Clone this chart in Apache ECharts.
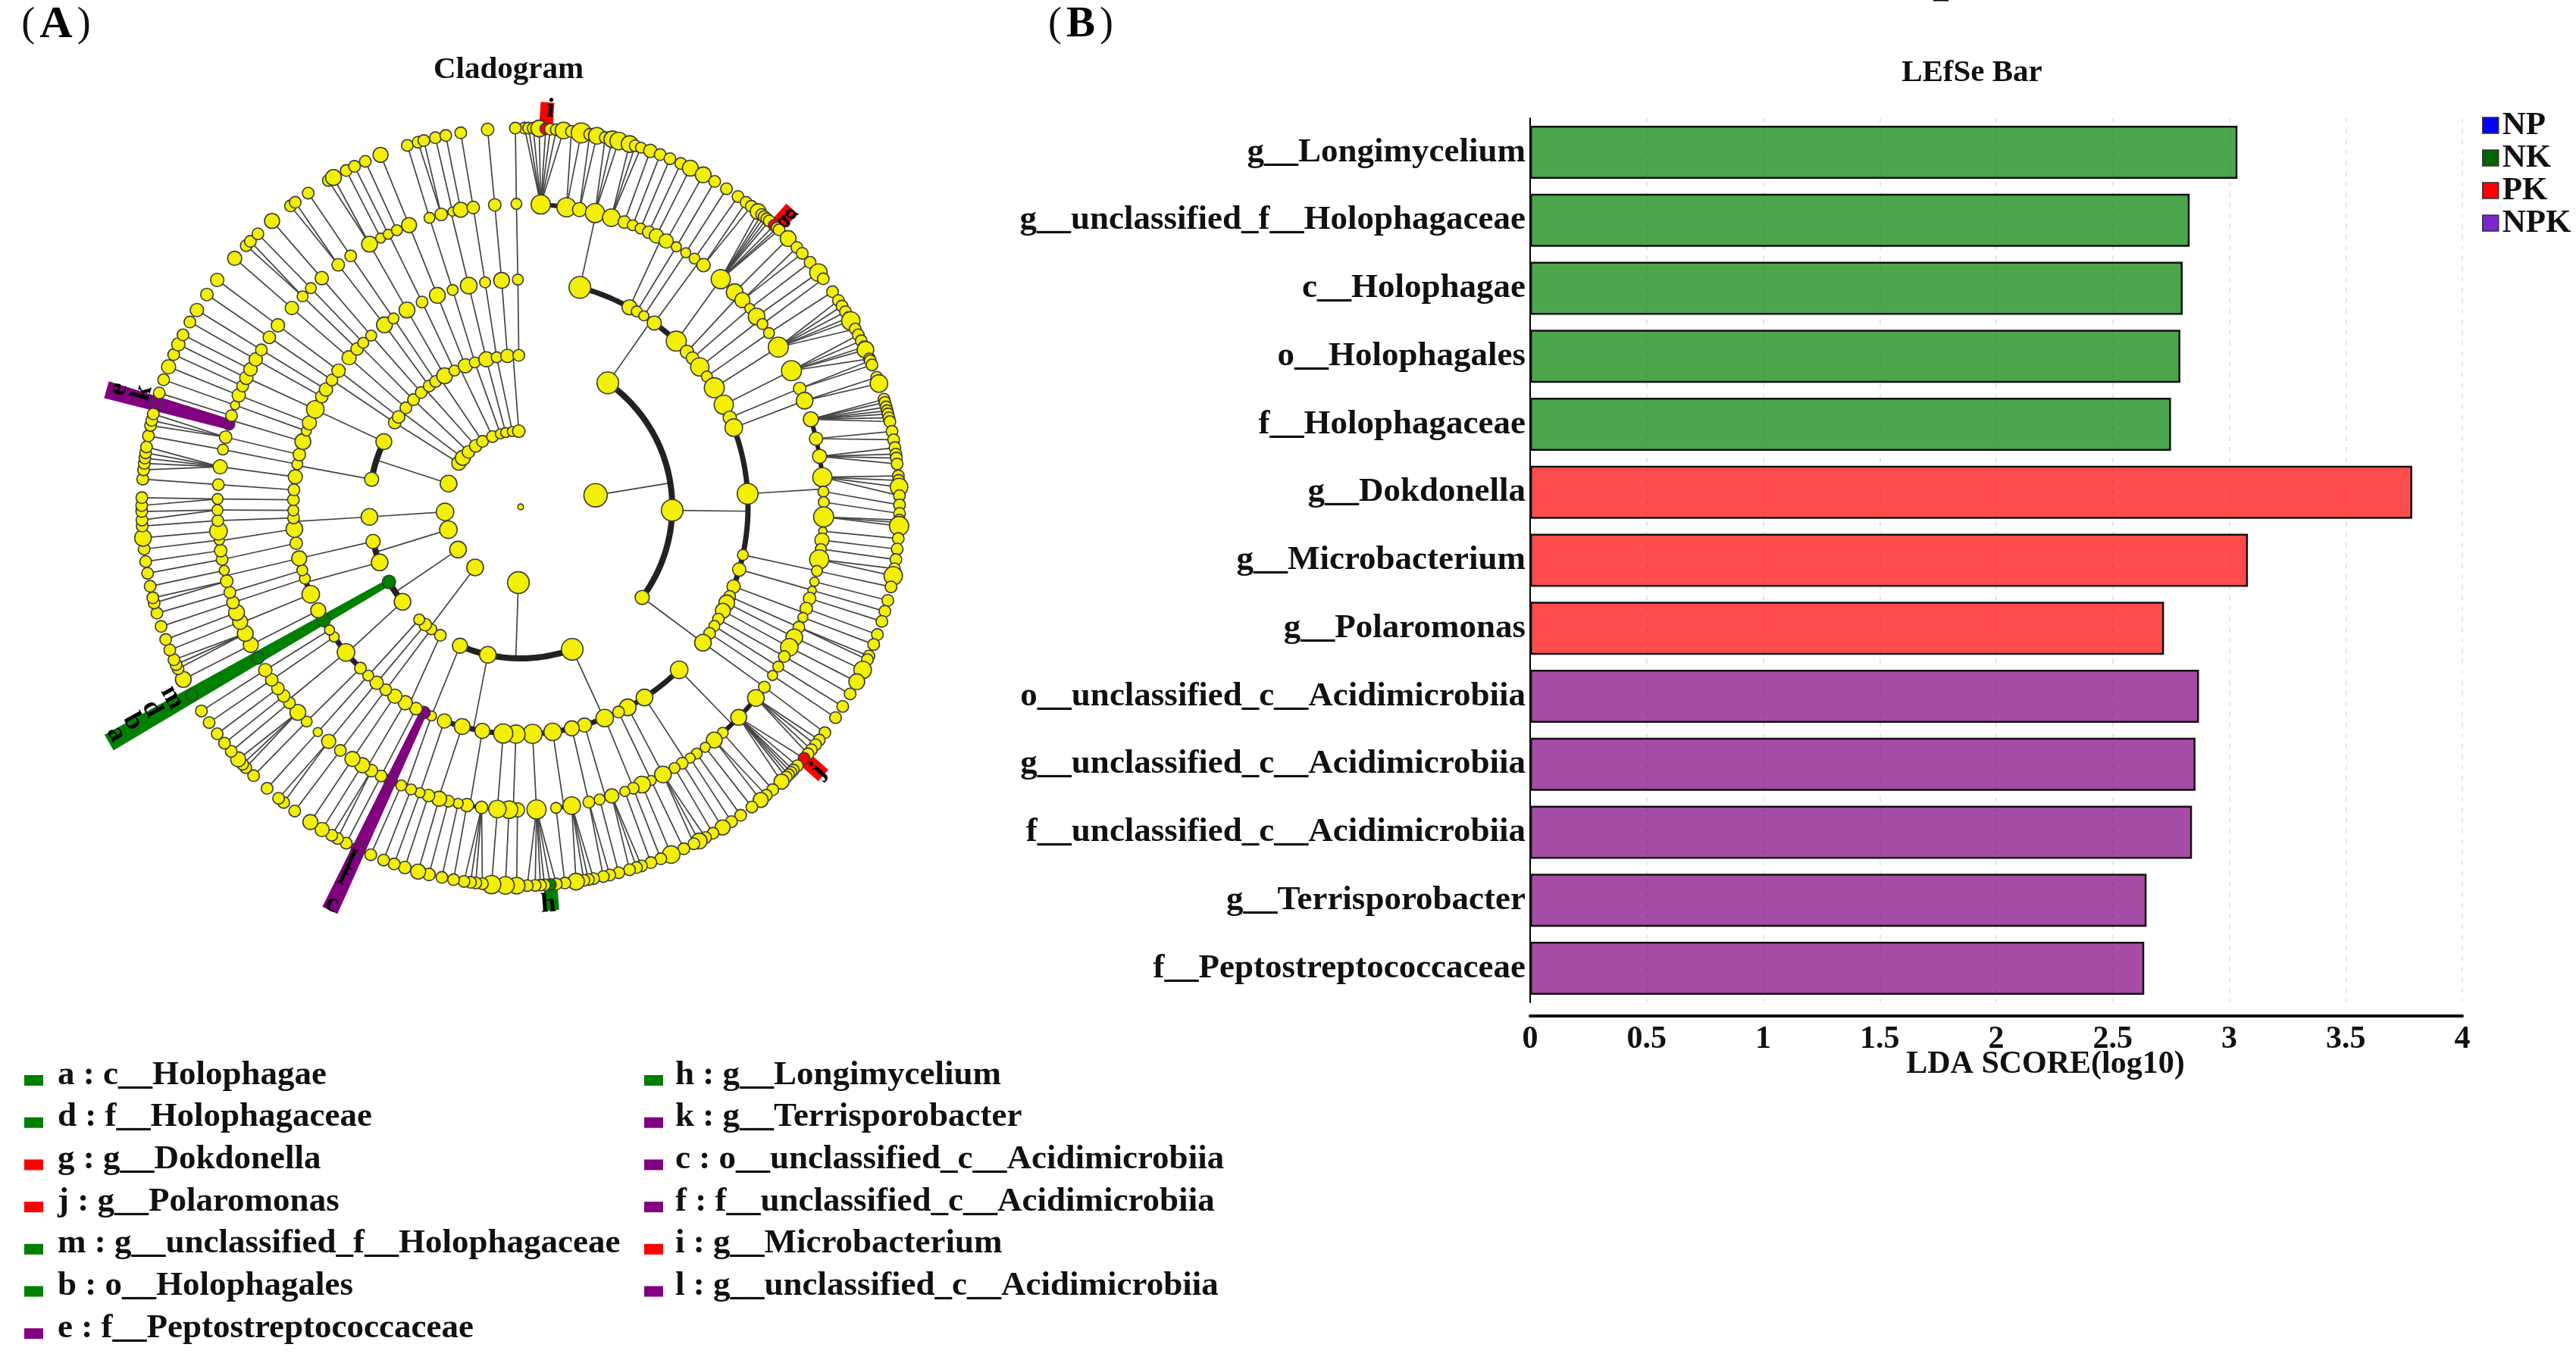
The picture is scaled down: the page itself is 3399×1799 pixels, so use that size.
<!DOCTYPE html>
<html><head><meta charset="utf-8"><style>html,body{margin:0;padding:0;background:#fff}#c{width:3399px;height:1799px}</style>
<script src="https://cdn.jsdelivr.net/npm/echarts@6/dist/echarts.min.js"></script></head>
<body><div id="c"></div>
<script>
// ---------- Bar panel data ----------
const taxa = ['g__Longimycelium','g__unclassified_f__Holophagaceae','c__Holophagae','o__Holophagales','f__Holophagaceae','g__Dokdonella','g__Microbacterium','g__Polaromonas','o__unclassified_c__Acidimicrobiia','g__unclassified_c__Acidimicrobiia','f__unclassified_c__Acidimicrobiia','g__Terrisporobacter','f__Peptostreptococcaceae'];
const ldaNP  = [null,null,null,null,null,null,null,null,null,null,null,null,null];
const ldaNK  = [3.035,2.83,2.80,2.79,2.75,null,null,null,null,null,null,null,null];
const ldaPK  = [null,null,null,null,null,3.785,3.08,2.72,null,null,null,null,null];
const ldaNPK = [null,null,null,null,null,null,null,null,2.87,2.855,2.84,2.645,2.635];
const xTicks = [0,0.5,1,1.5,2,2.5,3,3.5,4];

// ---------- Cladogram key ----------
const keyCol1 = [['a : c__Holophagae','NK'],['d : f__Holophagaceae','NK'],['g : g__Dokdonella','PK'],['j : g__Polaromonas','PK'],['m : g__unclassified_f__Holophagaceae','NK'],['b : o__Holophagales','NK'],['e : f__Peptostreptococcaceae','NPK']];
const keyCol2 = [['h : g__Longimycelium','NK'],['k : g__Terrisporobacter','NPK'],['c : o__unclassified_c__Acidimicrobiia','NPK'],['f : f__unclassified_c__Acidimicrobiia','NPK'],['i : g__Microbacterium','PK'],['l : g__unclassified_c__Acidimicrobiia','NPK']];

// ---------- Cladogram tree: [angle in degrees, abundance, [angles of children]] ----------
const phyla = [[81.2,28,[35.1,91.3,126.7]],[181.7,26,[160.1,192.5,203.6]],[216.9,20,[212,216.1,219,222]],[235.7,20,[231.2,240.3]],[252.5,21,[248.5,256.8]],[266.2,21,[266.2]],[287.9,20,[280.5,295.5]],[305.3,17,[303.8]],[310.3,18,[306.4,310.8]],[316.5,15,[315]],[323.6,15,[319,322.9]],[329.8,14,[325.9,329.9]],[338.2,14,[334.1,338.6]],[344.5,12,[342.4]],[348.6,12,[346.9]],[353.7,12,[350.9]],[358.6,15,[355,359.3]]];
const classes = [[35.1,26,[15.1,28.6,30.7,32.8,36,43.2,47,49.1,52,55]],[91.3,26,[58.4,63.3,66.9,69.6,86.7,102.2,106,110.5,113.2,115,117.2,119.6,121.6,123.8]],[126.7,17,[126.7]],[160.1,26,[135.8,147,151.9,154.5,158.3,163.7,167,171.9,177,181.2]],[192.5,20,[184.4,189.7,194.9,199.6]],[203.6,18,[203.1]],[212,14,[205.2,207.4,210.5,213.6]],[216.1,13,[216.4]],[219,15,[219.3]],[222,13,[222.1]],[231.2,20,[224.8,230.2,235.1]],[240.3,16,[237.2,240.1,242.9]],[248.5,20,[247.4,251.6,253.8]],[256.8,17,[256.9]],[266.2,20,[260.8,264.4,267.2,269.1,271.8]],[280.5,17,[274.3,277.6,280.8,283.3,286.7]],[295.5,19,[289.5,291.7,295.4,299,301.1]],[303.8,15,[303.9]],[306.4,15,[306.8]],[310.8,14,[311]],[315,14,[314,316.2]],[319,14,[318.9]],[322.9,14,[323.2]],[325.9,14,[326]],[329.9,19,[330]],[334.1,13,[334.3]],[338.6,17,[338.5]],[342.4,13,[342.6]],[346.9,18,[346.8]],[350.9,13,[351]],[355,16,[355.2]],[359.3,14,[359.3]]];
const orders = [[15.1,26,[3.8,8.7,11.2,14.2,17.4,20,21.7,23.3,25]],[28.6,18,[26.6,28.7]],[30.7,13,[30.9]],[32.8,12,[33]],[36,17,[35,37.1]],[43.2,24,[41.3]],[47,16,[44.9,47]],[49.1,15,[49.1]],[52,22,[51.1,52.9]],[55,13,[55]],[58.4,24,[58.2]],[63.3,23,[63.3]],[66.9,16,[67]],[69.6,21,[69.5]],[86.7,25,[73.2,77,80.4,84.4,87.1,89.1,91.9,94.6,96.3,98,100]],[102.2,13,[102.2]],[106,16,[104.3,106,107.6]],[110.5,16,[109.6,111.4]],[113.2,14,[113.4]],[115,19,[115.5]],[117.2,18,[117.6]],[119.6,14,[119.6]],[121.6,13,[121.8]],[123.8,14,[123.8]],[126.7,20,[126.5]],[135.8,21,[129.1,134,138.2,140.3,142.5]],[147,20,[144.5,146,147.8,149.5]],[151.9,20,[152]],[154.5,14,[154.5]],[158.3,21,[156.4,158.2,159.9]],[163.7,17,[162.5,164.9]],[167,18,[167]],[171.9,21,[170.3,173.3]],[177,23,[177]],[181.2,22,[180.6,182.2]],[184.4,23,[184.4]],[189.7,18,[187.4,190.2,191.9]],[194.9,19,[193.8,195.6,197.7]],[199.6,17,[199.4]],[203.1,12,[201.2,203.2]],[205.2,15,[205.4]],[207.4,15,[207.4]],[210.5,17,[209.5,211.5]],[213.6,17,[213.7]],[216.4,14,[216.5]],[219.3,16,[219.3]],[222.1,13,[222]],[224.8,14,[224.9]],[230.2,21,[227.3,229.7,231.4,233.2]],[235.1,12,[235.2]],[237.2,12,[237.4]],[240.1,16,[240.1]],[242.9,18,[242.9]],[247.4,21,[245.3,247.7,249.6]],[251.6,13,[251.6]],[253.8,13,[253.6]],[256.9,18,[255.8,257.9]],[260.8,15,[260]],[264.4,20,[261.7,263.7,265.4]],[267.2,14,[267.4]],[269.1,13,[269.4]],[271.8,14,[271.5]],[274.3,14,[274.2]],[277.6,17,[277.6]],[280.8,13,[280.9]],[283.3,15,[283.3]],[286.7,19,[285.8,287.5]],[289.5,12,[289.6]],[291.7,17,[291.6]],[295.4,21,[293.5,295.2,297]],[299,15,[299.1]],[301.1,16,[301.2]],[303.9,14,[304]],[306.8,16,[306.8]],[311,17,[311]],[314,15,[314]],[316.2,13,[316.2]],[318.9,13,[319]],[323.2,19,[323]],[326,13,[325.9]],[330,19,[330.1]],[334.3,14,[332.5,334.1,335.9]],[338.5,19,[338.4]],[342.6,13,[342.5]],[346.8,20,[344.8,347,348.6]],[351,13,[351]],[355.2,19,[355.1]],[359.3,13,[359.2]]];
const families = [[3.8,23,[0.6,1.2,1.9,2.8,3.8,4.5,5.4,6.5]],[8.7,23,[7.7,9.2]],[11.2,17,[10.5,11.6]],[14.2,23,[12.9,14,15]],[17.4,21,[16.7,17.6,18.5]],[20,15,[20]],[21.7,13,[21.6]],[23.3,13,[23.2]],[25,15,[25]],[26.6,17,[26.6]],[28.7,17,[28.8]],[30.9,12,[30.8]],[33,12,[32.9]],[35,13,[35]],[37.1,16,[36.5,37.5]],[41.3,23,[38.8,39.5,40,40.5,41,42,42.6,43]],[44.9,20,[44.9]],[47,18,[46.8,48]],[49.1,12,[49.8]],[51.1,20,[51.8]],[52.9,13,[53]],[55,13,[55.4]],[58.2,24,[57,58,59,60,60.6,62]],[63.3,24,[63,64,65,65.5,67]],[67,15,[67.3,68]],[69.5,20,[70,71]],[73.2,18,[73.5,74,74.7,75.3,75.8,76.4,77]],[77,16,[78.5,79.8]],[80.4,17,[81,82,82.6,83.5]],[84.4,23,[85.3,86,87,88.3]],[87.1,13,[89.7]],[89.1,13,[91]],[91.9,24,[92,92.4,92.9]],[94.6,10,[94.8]],[96.3,17,[96.4]],[98,13,[98]],[100,23,[99.4,100.5]],[102.2,13,[102.2]],[104.3,11,[104.3]],[106,10,[106]],[107.6,15,[107.6]],[109.6,15,[109.7]],[111.4,12,[111.3]],[113.4,14,[113.2,113.8]],[115.5,20,[115.5]],[117.6,21,[117.5]],[119.6,14,[119.6]],[121.8,13,[121.8]],[123.8,12,[123.8]],[126.5,14,[126.6]],[129.1,20,[128,128.9,129.9,130.7]],[134,19,[131.6,133.1,134,134.5,135,135.5,136.5]],[138.2,13,[138.3]],[140.3,19,[139.6,140.7]],[142.5,12,[142.4]],[144.5,13,[144.5]],[146,12,[146.2]],[147.8,14,[147.8]],[149.5,13,[149.5]],[152,20,[150.8,151.9,152.8]],[154.5,12,[154.5]],[156.4,20,[156.6]],[158.2,14,[158.3]],[159.9,12,[159.9]],[162.5,17,[161.4,162.2,163.3]],[164.9,13,[165]],[167,14,[166.4,167.4]],[170.3,21,[168.9,169.7,170.4,171.6]],[173.3,13,[173.3]],[177,23,[174.6,175.5,176.4,177,177.8,179]],[180.6,17,[180.6]],[182.2,21,[182.3]],[184.4,21,[184.4]],[187.4,15,[185.8,186.8,187.6,188.6]],[190.2,16,[190.2]],[191.9,12,[192]],[193.8,14,[194]],[195.6,18,[195.7]],[197.7,15,[197.8]],[199.4,12,[199.5]],[201.2,13,[201.2]],[203.2,13,[203.3]],[205.4,16,[205.4]],[207.4,14,[207.4]],[209.5,15,[208.9,209.9]],[211.5,18,[211.6]],[213.7,18,[213.7]],[216.5,14,[216.6]],[219.3,17,[218.7,219.7]],[222,11,[222]],[224.9,13,[224.8]],[227.3,19,[226.5,227.2,228.2]],[229.7,14,[229.8]],[231.4,15,[231.4]],[233.2,15,[233.2]],[235.2,15,[235.3]],[237.4,16,[237.4]],[240.1,15,[240.2]],[242.9,18,[242.9]],[245.3,19,[244.7,245.4,246.2]],[247.7,18,[247.8]],[249.6,19,[249.5]],[251.6,15,[251.6]],[253.6,14,[253.7]],[255.8,15,[255.3,256.1]],[257.9,12,[257.9]],[260,14,[259.9]],[261.7,15,[261.7]],[263.7,12,[263.6]],[265.4,21,[265.3]],[267.4,14,[267.1]],[269.4,13,[268,269.3]],[271.5,13,[270.2,271.4]],[274.2,14,[274.2]],[277.6,17,[275.6,276.6,277.4,278.2,279.1]],[280.9,13,[280.8]],[283.3,15,[282.4,283.2,284.2]],[285.8,14,[285.9]],[287.5,14,[287.5]],[289.6,11,[289.6]],[291.6,16,[291.7]],[293.5,14,[293.7]],[295.2,16,[295.4]],[297,16,[297]],[299.1,16,[299.2]],[301.2,14,[301.3]],[304,15,[304.1]],[306.8,16,[306.8]],[311,16,[311]],[314,13,[313.6,314.5]],[316.2,13,[316.1]],[319,16,[319]],[323,15,[322.6,323.5]],[325.9,14,[325.9]],[330.1,19,[329.5,330.4]],[332.5,12,[332.6]],[334.1,12,[334]],[335.9,13,[335.8]],[338.4,18,[338.3]],[342.5,13,[342.6]],[344.8,15,[344.3,345.2]],[347,11,[347]],[348.6,18,[348.6]],[351,15,[350.9]],[355.1,15,[355]],[359.2,13,[359.2]]];
// genera default to 14; those read as larger or smaller:
const generaAbundance = {2.8:20,6.5:20,9.2:24,11.6:20,14:20,15:21,16.7:20,18.5:13,20:16,26.6:19,28.8:19,38.8:19,44.9:19,51.8:21,60.6:22,65.5:20,71:21,87:21,92.9:23,100.5:22,115.5:21,117.5:19,136.5:18,140.7:18,147.8:18,151.9:19,156.6:21,171.6:20,180.6:20,182.3:21,184.4:22,194:15,195.7:18,197.8:15,205.4:17,211.6:17,213.7:18,228.2:18,242.9:19,265.3:20,291.7:17,295.4:16,301.3:16,304.1:15,306.8:16,311:17,319:18,330.4:19,338.3:18,355:15};

// ---------- Clade markers (ring where the strip starts, angle, outer radius in ring units) ----------
const cladeGroups = ['NK','NK','NPK','NPK','PK','PK','PK'];
const cladeAngles = [240.2,175.5,205.3,285.8,3.8,42.3,131.6];
const cladeFrom   = [2,5,3,4,5,5,5];
const cladeTo     = [6.26,5.34,5.89,5.68,5.35,5.32,5.34];
const letterText  = ['m','d','b','a','h','l','f','c','k','e','i','g','j'];
const letterAngle = [241.3,241.3,241.0,240.7,176,205.7,205.6,205.4,286.8,286.3,4.3,42.7,131.6];
const letterRing  = [5.24,5.55,5.85,6.12,5.26,5.18,5.42,5.8,5.21,5.53,5.26,5.24,5.25];

// ---------- Styles ----------
const FONT = '"Liberation Serif","Times New Roman",serif';
const barColor  = {NK:'rgba(0,128,0,0.7)', PK:'rgba(255,0,0,0.7)', NPK:'rgba(128,0,128,0.7)', NP:'rgba(0,0,255,0.7)'};
const keyColor  = {NP:'#0000ff', NK:'#006400', PK:'#ff0000', NPK:'#7d26cd'};
const cladeColor= {NK:'#008000', PK:'#ff0000', NPK:'#800080'};
const stripWidths = [[9,24],[18,18],[10,22],[14,23],[18,18],[20,20],[20,20]];
const sizeScale = 1.1;

// ---------- Derive marks ----------
const ringLevels = [[1,phyla],[2,classes],[3,orders],[4,families]];
const nodes = [[0,0,7]];
ringLevels.forEach(([r,list])=>list.forEach(n=>nodes.push([r,n[0],n[1]])));
families.forEach(f=>f[2].forEach(a=>nodes.push([5,a,generaAbundance[a]||14])));

const thin=[], arcs=[];
ringLevels.forEach(([r,list])=>list.forEach(n=>{
  const kids=n[2];
  if(r===4){kids.forEach(a=>thin.push([r,n[0],r+1,a]));return;}
  const lo=Math.min(...kids),hi=Math.max(...kids),mid=(lo+hi)/2;
  thin.push([r,n[0],r+1,mid]);
  if(hi>lo) arcs.push([r+1,lo,hi]);
}));

const highlight={};
cladeGroups.forEach((g,i)=>{
  for(let r=cladeFrom[i];r<=5;r++){
    // nearest node on the ring takes the clade colour
    let best=-1,bd=1e9;
    nodes.forEach((n,j)=>{if(n[0]===r){const d=Math.abs(n[1]-cladeAngles[i]);if(d<bd){bd=d;best=j;}}});
    highlight[best]=cladeColor[g];
  }
});
const stripRows=cladeGroups.map((g,i)=>[cladeFrom[i],cladeAngles[i],cladeTo[i],i]);
const arcWidth={2:8,3:7,4:6};

const graphics=[];
[[keyCol1,32,76],[keyCol2,850,891]].forEach(([rows,sx,tx])=>rows.forEach((row,i)=>{
  const y=1419+i*55.7;
  graphics.push({type:'rect',silent:true,shape:{x:sx,y:y,width:25,height:14},style:{fill:cladeColor[row[1]]}});
  graphics.push({type:'text',silent:true,x:tx,y:y,style:{text:row[0],font:'bold 45px '+FONT,fill:'#111',align:'left',verticalAlign:'middle'}});
}));
const panelRich=size=>({p:{font:'54px '+FONT,fill:'#111',padding:[0,3,0,3]},a:{font:'bold '+size+'px '+FONT,fill:'#000',padding:[0,3,0,3]}});
graphics.push({type:'text',silent:true,x:74,y:33,style:{text:'{p|(}{a|A}{p|)}',align:'center',verticalAlign:'middle',rich:panelRich(60)}});
graphics.push({type:'text',silent:true,x:1426,y:33,style:{text:'{p|(}{a|B}{p|)}',align:'center',verticalAlign:'middle',rich:panelRich(57)}});
graphics.push({type:'rect',silent:true,shape:{x:2551,y:0,width:20,height:1.5},style:{fill:'#000'}});

const option={
  animation:false,backgroundColor:'#fff',
  textStyle:{fontFamily:FONT},
  title:[
    {text:'Cladogram',left:666,top:87,textAlign:'center',textVerticalAlign:'middle',textStyle:{fontFamily:FONT,fontWeight:'bold',fontSize:41,color:'#111'}},
    {text:'LEfSe Bar',left:2597,top:91,textAlign:'center',textVerticalAlign:'middle',textStyle:{fontFamily:FONT,fontWeight:'bold',fontSize:41,color:'#111'}}
  ],
  legend:{orient:'vertical',left:3270,top:139,itemWidth:21,itemHeight:21,itemGap:0,selectedMode:false,
    textStyle:{fontFamily:FONT,fontWeight:'bold',fontSize:43,color:'#111',padding:[0,0,0,0]},
    data:['NP','NK','PK','NPK'].map(n=>({name:n,icon:'rect',itemStyle:{color:keyColor[n],borderColor:'#333',borderWidth:1.5}}))},
  grid:{left:2019,right:150,top:156,bottom:476,containLabel:false},
  xAxis:{type:'value',min:0,max:4,interval:0.5,offset:18,position:'bottom',
    name:'LDA SCORE(log10)',nameLocation:'middle',nameGap:43,nameMoveOverlap:false,
    nameTextStyle:{fontFamily:FONT,fontWeight:'bold',fontSize:42,color:'#111',padding:[0,0,0,130]},
    axisLine:{show:true,lineStyle:{color:'#000',width:4}},axisTick:{show:false},
    axisLabel:{fontFamily:FONT,fontWeight:'bold',fontSize:42,color:'#111',margin:10,formatter:v=>xTicks.includes(v)?String(v):''},
    splitLine:{show:true,lineStyle:{color:'#ddd',type:[6,8],width:1.5}}},
  yAxis:{type:'category',inverse:true,data:taxa,
    axisLine:{show:true,onZero:false,lineStyle:{color:'#000',width:2}},axisTick:{show:false},
    axisLabel:{fontFamily:FONT,fontWeight:'bold',fontSize:45,color:'#111',margin:6,padding:[0,0,24,0]},splitLine:{show:false}},
  polar:{center:[687,669],radius:700},
  angleAxis:{type:'value',min:0,max:360,startAngle:90,clockwise:true,show:false,axisLine:{show:false},splitLine:{show:false},axisTick:{show:false},axisLabel:{show:false}},
  radiusAxis:{type:'value',min:0,max:7,show:false,axisLine:{show:false},splitLine:{show:false},axisTick:{show:false},axisLabel:{show:false}},
  graphic:graphics,
  series:[
    ...[['NP',ldaNP],['NK',ldaNK],['PK',ldaPK],['NPK',ldaNPK]].map(([n,d])=>({
      name:n,type:'bar',stack:'lda',data:d,barWidth:70,xAxisIndex:0,yAxisIndex:0,
      itemStyle:{color:barColor[n],borderColor:'#111',borderWidth:2.5}})),
    {type:'custom',coordinateSystem:'polar',z:2,silent:true,clip:false,data:thin,encode:{radius:[0,2],angle:[1,3]},
      renderItem(p,api){
        const a=api.coord([api.value(0),api.value(1)]),b=api.coord([api.value(2),api.value(3)]);
        return {type:'line',shape:{x1:a[0],y1:a[1],x2:b[0],y2:b[1]},style:{stroke:'#444',lineWidth:1.7}};
      }},
    {type:'custom',coordinateSystem:'polar',z:2,silent:true,clip:false,data:arcs,encode:{radius:0,angle:[1,2]},
      renderItem(p,api){
        const r=api.value(0),lo=api.value(1),hi=api.value(2),pts=[];
        for(let a=lo;a<hi;a+=1) pts.push(api.coord([r,a]));
        pts.push(api.coord([r,hi]));
        return {type:'polyline',shape:{points:pts},style:{fill:null,stroke:'#222',lineWidth:arcWidth[r]}};
      }},
    {type:'custom',coordinateSystem:'polar',z:3,silent:true,clip:false,data:stripRows,encode:{radius:[0,2],angle:1},
      renderItem(p,api){
        const a=api.coord([api.value(0),api.value(1)]),b=api.coord([api.value(2),api.value(1)]);
        const i=api.value(3),[w0,w1]=stripWidths[i];
        const dx=b[0]-a[0],dy=b[1]-a[1],l=Math.hypot(dx,dy),nx=-dy/l,ny=dx/l;
        return {type:'polygon',shape:{points:[[a[0]+nx*w0/2,a[1]+ny*w0/2],[b[0]+nx*w1/2,b[1]+ny*w1/2],[b[0]-nx*w1/2,b[1]-ny*w1/2],[a[0]-nx*w0/2,a[1]-ny*w0/2]]},
          style:{fill:cladeColor[cladeGroups[i]]}};
      }},
    {type:'scatter',coordinateSystem:'polar',z:4,silent:true,clip:false,data:nodes,encode:{radius:0,angle:1},
      symbol:'circle',symbolSize:v=>v[2]*sizeScale,
      itemStyle:{color:p=>highlight[p.dataIndex]||'#f2ef00',borderColor:'#3a3a3a',borderWidth:1.6,opacity:1}},
    {type:'custom',coordinateSystem:'polar',z:5,silent:true,clip:false,data:letterRing.map((r,i)=>[r,letterAngle[i]]),encode:{radius:0,angle:1},
      renderItem(p,api){
        const c=api.coord([api.value(0),api.value(1)]);
        let rot=api.value(1); if(rot>270)rot-=360; else if(rot>90)rot-=180;
        return {type:'text',x:c[0],y:c[1],rotation:-rot*Math.PI/180,style:{text:letterText[p.dataIndex],font:'bold 36px '+FONT,fill:'#000',align:'center',verticalAlign:'middle'}};
      }}
  ]
};
echarts.init(document.getElementById('c')).setOption(option);
</script></body></html>
